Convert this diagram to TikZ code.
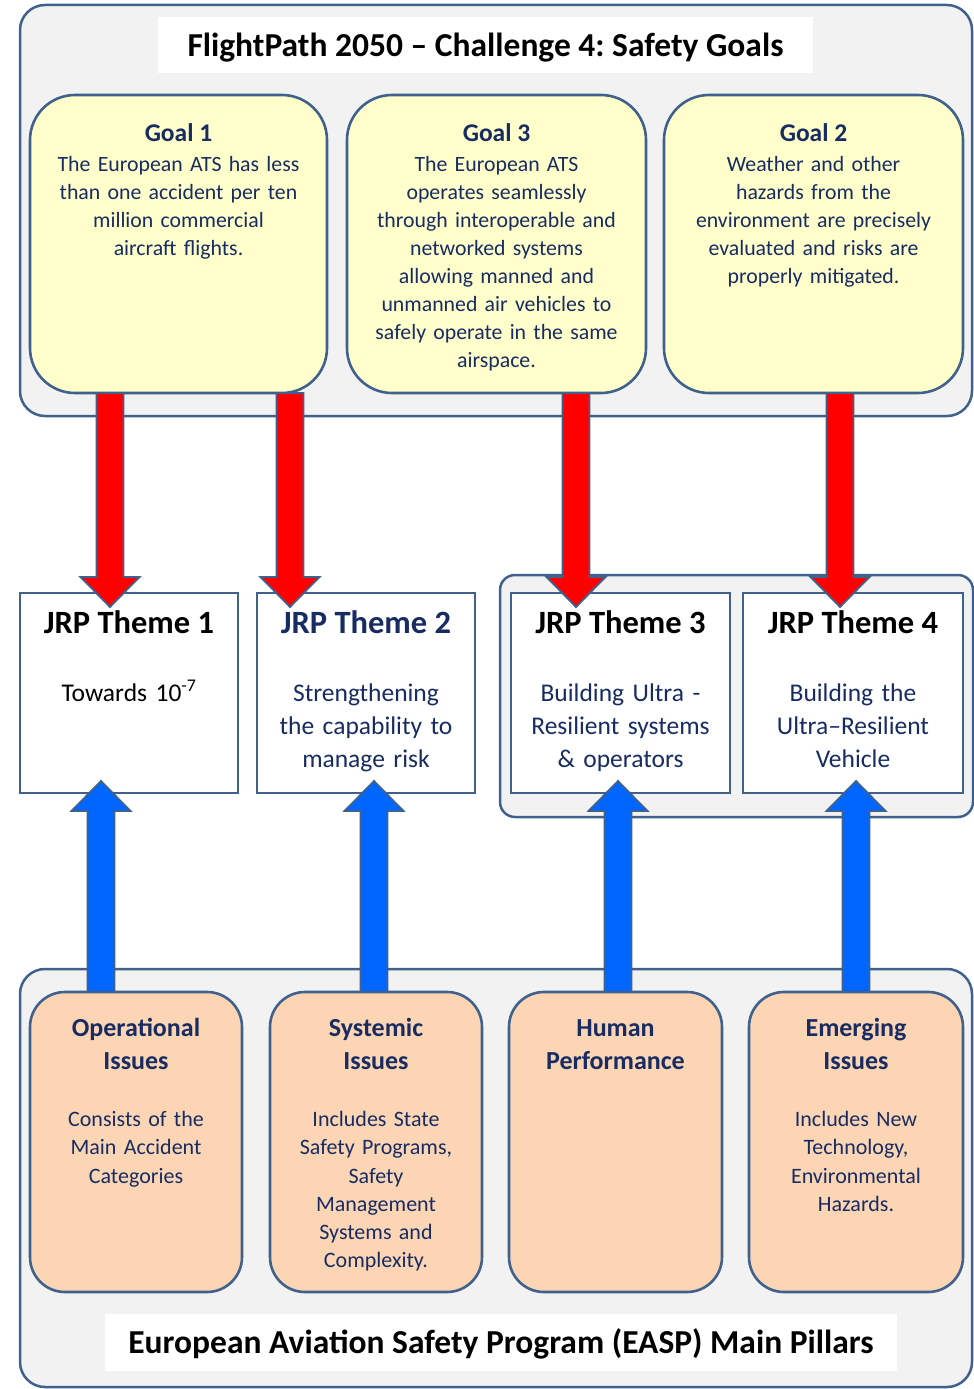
\documentclass[tikz,border=0pt]{standalone}
\usepackage{fontspec}
\setmainfont{Carlito}
\usetikzlibrary{calc}
\definecolor{bd}{HTML}{3F618C}
\definecolor{contfill}{HTML}{F2F2F2}
\definecolor{goalfill}{HTML}{FFFFCC}
\definecolor{pillfill}{HTML}{FCD5B5}
\definecolor{navy}{HTML}{182C62}
\definecolor{arrred}{HTML}{FF0000}
\definecolor{arrblue}{HTML}{0066FF}
\newcommand\pbox[6]{\node[#2, anchor=north west, minimum width={#5-#3}, minimum height={#6-#4}] (#1) at (#3,#4) {};}
\newcommand\blockarrow[5]{%
  \draw[#1] let \p1=(#3), \p2=(#4) in
    ({#2pt-13.5pt},\y1) -- ({#2pt-13.5pt},{\y2+(#5)}) -- ({#2pt-29.5pt},{\y2+(#5)})
    -- ({#2pt},\y2) -- ({#2pt+29.5pt},{\y2+(#5)}) -- ({#2pt+13.5pt},{\y2+(#5)})
    -- ({#2pt+13.5pt},\y1) -- cycle;}
\frenchspacing
\begin{document}
\begin{tikzpicture}[x=1pt,y=-1pt,
  base/.style={inner sep=0pt, outer sep=0pt},
  container/.style={base, draw=bd, line width=2.5pt, fill=contfill, rounded corners=25pt},
  groupbox/.style={base, draw=bd, line width=2.5pt, fill=contfill, rounded corners=15pt},
  whitebox/.style={base, fill=white},
  goalbox/.style={base, draw=bd, line width=2.6pt, fill=goalfill, rounded corners=45pt},
  themebox/.style={base, draw=bd, line width=2.6pt, fill=white},
  pillbox/.style={base, draw=bd, line width=2.6pt, fill=pillfill, rounded corners=35pt},
  redarrow/.style={draw=bd, line width=1.8pt, fill=arrred, line join=miter},
  bluearrow/.style={draw=bd, line width=1.8pt, fill=arrblue, line join=miter},
  bigtitle/.style={base, anchor=base, font=\fontsize{33.5}{40}\selectfont\bfseries},
  goaltitle/.style={base, anchor=base, text=navy, font=\fontsize{25.5}{30}\selectfont\bfseries},
  goalbody/.style={base, anchor=base, text=navy, align=center, text width=290pt, font=\fontsize{21.8}{28}\selectfont},
  themetitle/.style={base, anchor=base, font=\fontsize{32.5}{38}\selectfont\bfseries},
  themebody/.style={base, anchor=base, align=center, text width=215pt, font=\fontsize{25.5}{33}\selectfont},
  pilltitle/.style={base, anchor=base, text=navy, align=center, text width=210pt, font=\fontsize{26}{33}\selectfont\bfseries},
  pillbody/.style={base, anchor=base, text=navy, align=center, text width=210pt, font=\fontsize{22}{28.2}\selectfont}
]
\useasboundingbox (0,0) rectangle (974,1389);
% containers
\pbox{top}{container}{20}{5}{972}{416}
\pbox{grp}{groupbox}{500}{575}{973}{817}
\pbox{bot}{container}{20}{969}{972}{1387}
\pbox{ttlbox}{whitebox}{158}{17}{813}{73}
\pbox{easpbox}{whitebox}{105}{1314}{897}{1371}
% goals
\pbox{g1}{goalbox}{30}{95}{327}{393}
\pbox{g3}{goalbox}{347}{95}{646}{393}
\pbox{g2}{goalbox}{664}{95}{963}{393}
% themes
\pbox{t1}{themebox}{20}{593}{238}{793}
\pbox{t2}{themebox}{257}{593}{475}{793}
\pbox{t3}{themebox}{511}{593}{730}{793}
\pbox{t4}{themebox}{743}{593}{963}{793}
% pillars
\pbox{p1}{pillbox}{30}{992}{242}{1292}
\pbox{p2}{pillbox}{270}{992}{482}{1292}
\pbox{p3}{pillbox}{509}{992}{722}{1292}
\pbox{p4}{pillbox}{749}{992}{963}{1292}
% arrows
\blockarrow{redarrow}{110}{g1.south}{$(t1.north)+(0,14)$}{30pt}
\blockarrow{redarrow}{290}{g1.south}{$(t2.north)+(0,14)$}{30pt}
\blockarrow{redarrow}{576}{g3.south}{$(t3.north)+(0,14)$}{30pt}
\blockarrow{redarrow}{840}{g2.south}{$(t4.north)+(0,14)$}{30pt}
\blockarrow{bluearrow}{101}{p1.north}{$(t1.south)+(0,-12)$}{-30pt}
\blockarrow{bluearrow}{374}{p2.north}{$(t2.south)+(0,-12)$}{-30pt}
\blockarrow{bluearrow}{618}{p3.north}{$(t3.south)+(0,-12)$}{-30pt}
\blockarrow{bluearrow}{856}{p4.north}{$(t4.south)+(0,-12)$}{-30pt}
% titles
\node[bigtitle] (ttl) at (485.5,56.5) {FlightPath 2050 – Challenge 4: Safety Goals};
\node[bigtitle] (easp) at (501,1353) {European Aviation Safety Program (EASP) Main Pillars};
% goal texts
\node[goaltitle] (g1h) at (178.5,141.5) {Goal 1};
\node[goalbody] (g1b) at (178.5,171.5) {The European ATS has less\\than one accident per ten\\million commercial\\aircraft flights.};
\node[goaltitle] (g3h) at (496.5,141.5) {Goal 3};
\node[goalbody] (g3b) at (496.5,171.5) {The European ATS\\operates seamlessly\\through interoperable and\\networked systems\\allowing manned and\\unmanned air vehicles to\\safely operate in the same\\airspace.};
\node[goaltitle] (g2h) at (813.5,141.5) {Goal 2};
\node[goalbody] (g2b) at (813.5,171.5) {Weather and other\\hazards from the\\environment are precisely\\evaluated and risks are\\properly mitigated.};
% theme texts
\node[themetitle] (t1h) at (129,633) {JRP Theme 1};
\node[themebody] (t1b) at (129,701) {Towards 10\textsuperscript{-7}};
\node[themetitle, text=navy] (t2h) at (366,633) {JRP Theme 2};
\node[themebody, text=navy] (t2b) at (366,701) {Strengthening\\the capability to\\manage risk};
\node[themetitle] (t3h) at (620.5,633) {JRP Theme 3};
\node[themebody, text=navy] (t3b) at (620.5,701) {Building Ultra -\\Resilient systems\\\& operators};
\node[themetitle] (t4h) at (853,633) {JRP Theme 4};
\node[themebody, text=navy] (t4b) at (853,701) {Building the\\Ultra–Resilient\\Vehicle};
% pillar texts
\node[pilltitle] (p1h) at (136,1036) {Operational\\Issues};
\node[pillbody] (p1b) at (136,1126.7) {Consists of the\\Main Accident\\Categories};
\node[pilltitle] (p2h) at (376,1036) {Systemic\\Issues};
\node[pillbody] (p2b) at (376,1126.7) {Includes State\\Safety Programs,\\Safety\\Management\\Systems and\\Complexity.};
\node[pilltitle] (p3h) at (615.5,1036) {Human\\Performance};
\node[pilltitle] (p4h) at (856,1036) {Emerging\\Issues};
\node[pillbody] (p4b) at (856,1126.7) {Includes New\\Technology,\\Environmental\\Hazards.};
\end{tikzpicture}
\end{document}
